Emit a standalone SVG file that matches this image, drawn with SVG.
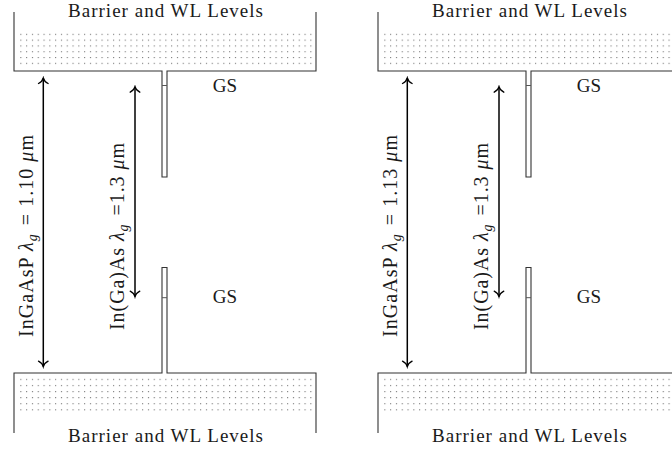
<svg xmlns="http://www.w3.org/2000/svg" width="672" height="451" viewBox="0 0 672 451">
<defs>
<style>
.wall{fill:none;stroke:#333;stroke-width:1.1}
.slot{fill:none;stroke:#555;stroke-width:1}
.arr{fill:none;stroke:#000;stroke-width:1.5;marker-start:url(#tip);marker-end:url(#tip)}
.t{font-family:"Liberation Serif","DejaVu Serif",serif;font-size:19px;fill:#1a1a1a}
.rl{font-size:20px}
.it{font-style:italic}
</style>
<pattern id="dotsTop" patternUnits="userSpaceOnUse" x="20.3" y="33.8" width="5.8" height="5.8">
<rect x="0" y="0" width="1.1" height="1.1" fill="#777"/>
</pattern>
<pattern id="dotsBot" patternUnits="userSpaceOnUse" x="20.3" y="378.8" width="5.8" height="6.1">
<rect x="0" y="0" width="1.1" height="1.1" fill="#777"/>
</pattern>
<marker id="tip" markerUnits="userSpaceOnUse" viewBox="-7 -6 9 12" markerWidth="9" markerHeight="12" refX="0" refY="0" orient="auto-start-reverse">
<path d="M-5.5,-4.8 C-4,-1.8 -1.5,-0.4 0,0 C-1.5,0.4 -4,1.8 -5.5,4.8" fill="none" stroke="#000" stroke-width="1.3" stroke-linecap="round"/>
</marker>
<g id="panel">
<g id="top-barrier">
<rect x="20" y="33" width="296" height="33" fill="url(#dotsTop)"/>
<path class="wall" d="M14,12 V71 H162 V177 H167 V71 H316 V12"/>
<line class="slot" x1="162" y1="85.5" x2="167" y2="85.5"/>
<text class="t" x="165.5" y="16.5" text-anchor="middle" textLength="195" lengthAdjust="spacing">Barrier and WL Levels</text>
</g>
<g id="bottom-barrier">
<rect x="20" y="378" width="296" height="35" fill="url(#dotsBot)"/>
<path class="wall" d="M14,433 V373 H162 V267.5 H167 V373 H316 V433"/>
<line class="slot" x1="162" y1="297.7" x2="167" y2="297.7"/>
<text class="t" x="165.5" y="441.5" text-anchor="middle" textLength="195" lengthAdjust="spacing">Barrier and WL Levels</text>
</g>
<g id="gs-top"><text class="t" x="225" y="92" text-anchor="middle">GS</text></g>
<g id="gs-bottom"><text class="t" x="225" y="303" text-anchor="middle">GS</text></g>
</g>
</defs>
<g id="left-panel">
<use href="#panel"/>
<g id="connectors-left">
<line class="arr" x1="43.3" y1="78" x2="43.3" y2="366.7"/>
<line class="arr" x1="135" y1="86.7" x2="135" y2="296.7"/>
</g>
<g id="label-long-left"><text class="t rl" transform="translate(33,236) rotate(-90)" text-anchor="middle" textLength="202" lengthAdjust="spacing">InGaAsP <tspan class="it">λ</tspan><tspan class="it" font-size="14" dy="4">g</tspan><tspan dy="-4" dx="2"> = 1.10 </tspan><tspan class="it">μ</tspan>m</text></g>
<g id="label-short-left"><text class="t rl" transform="translate(123.5,236.5) rotate(-90)" text-anchor="middle" textLength="187" lengthAdjust="spacing">In(Ga)As <tspan class="it">λ</tspan><tspan class="it" font-size="14" dy="4">g</tspan><tspan dy="-4" dx="2"> =1.3 </tspan><tspan class="it">μ</tspan>m</text></g>
</g>
<g id="right-panel" transform="translate(364,0)">
<use href="#panel"/>
<g id="connectors-right">
<line class="arr" x1="43.3" y1="78" x2="43.3" y2="366.7"/>
<line class="arr" x1="135" y1="86.7" x2="135" y2="296.7"/>
</g>
<g id="label-long-right"><text class="t rl" transform="translate(33,236) rotate(-90)" text-anchor="middle" textLength="202" lengthAdjust="spacing">InGaAsP <tspan class="it">λ</tspan><tspan class="it" font-size="14" dy="4">g</tspan><tspan dy="-4" dx="2"> = 1.13 </tspan><tspan class="it">μ</tspan>m</text></g>
<g id="label-short-right"><text class="t rl" transform="translate(123.5,236.5) rotate(-90)" text-anchor="middle" textLength="187" lengthAdjust="spacing">In(Ga)As <tspan class="it">λ</tspan><tspan class="it" font-size="14" dy="4">g</tspan><tspan dy="-4" dx="2"> =1.3 </tspan><tspan class="it">μ</tspan>m</text></g>
</g>
</svg>
